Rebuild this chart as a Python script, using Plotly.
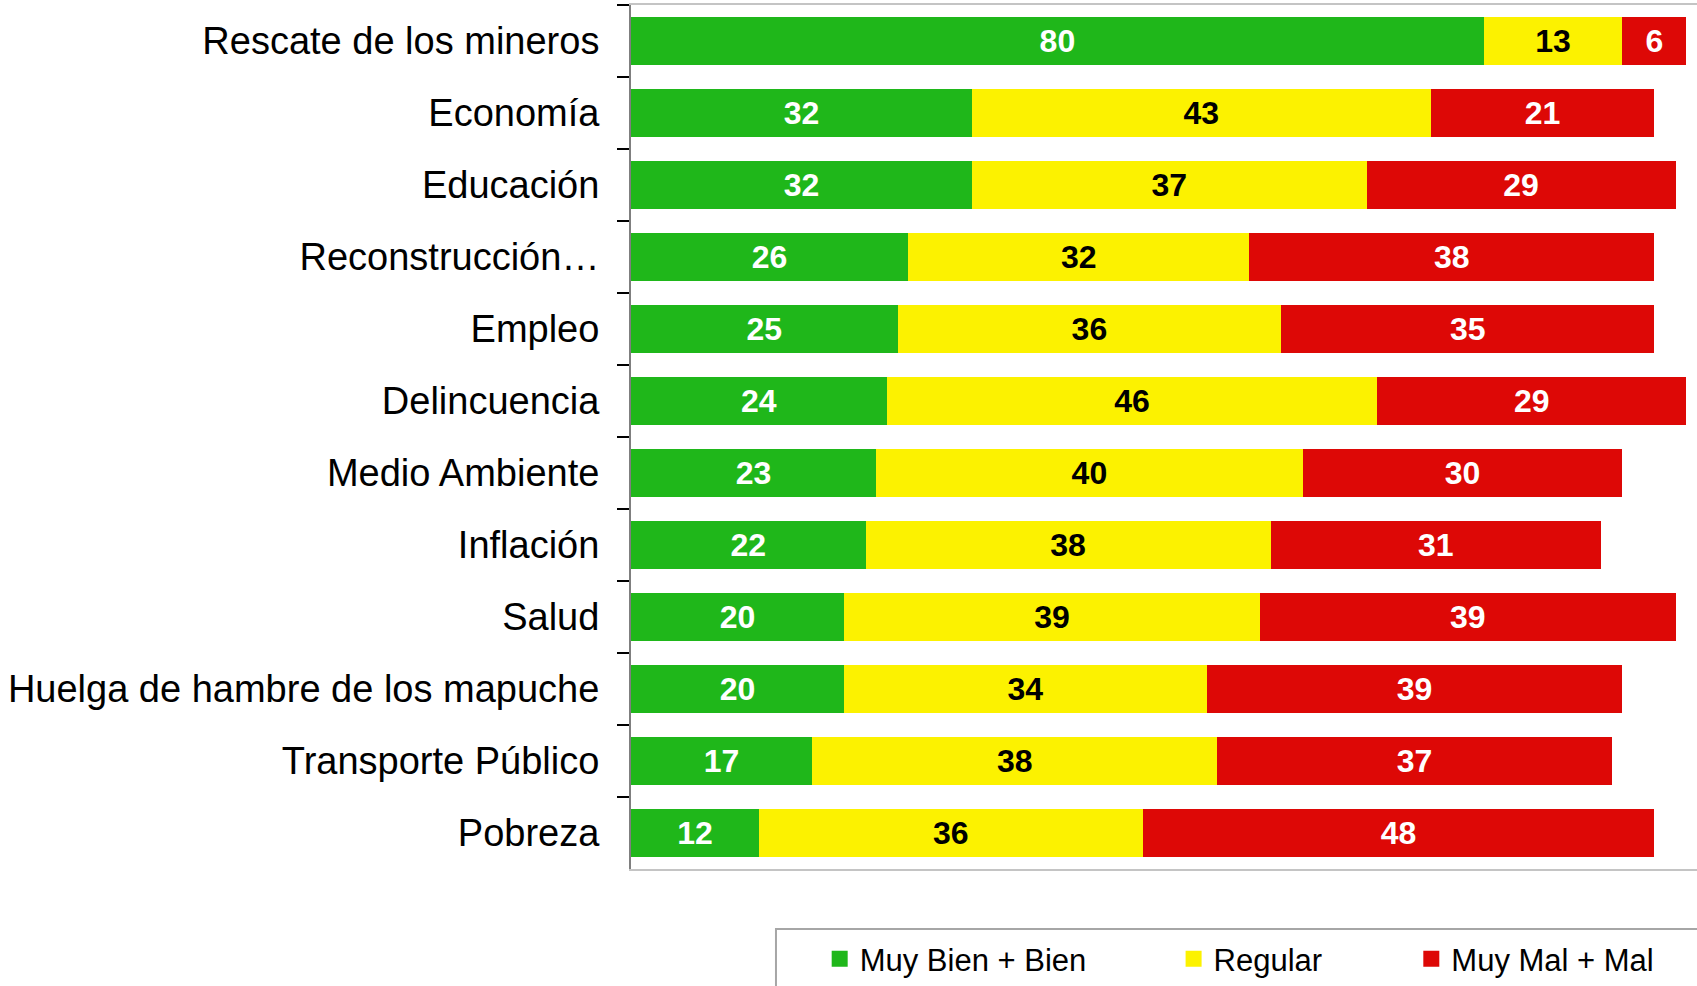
import plotly.graph_objects as go

categories = [
    "Rescate de los mineros", "Economía", "Educación", "Reconstrucción…",
    "Empleo", "Delincuencia", "Medio Ambiente", "Inflación", "Salud",
    "Huelga de hambre de los mapuche", "Transporte Público", "Pobreza",
]
bien = [80, 32, 32, 26, 25, 24, 23, 22, 20, 20, 17, 12]
regular = [13, 43, 37, 32, 36, 46, 40, 38, 39, 34, 38, 36]
mal = [6, 21, 29, 38, 35, 29, 30, 31, 39, 39, 37, 48]

series = [
    ("Muy Bien + Bien", bien, "#1fb71a", "white", "legend", 0.177),
    ("Regular", regular, "#fcf200", "black", "legend2", 0.509),
    ("Muy Mal + Mal", mal, "#dd0806", "white", "legend3", 0.732),
]

fig = go.Figure()
for name, vals, color, txtcolor, leg, lx in series:
    fig.add_trace(go.Bar(
        y=categories, x=vals, orientation="h", name=name,
        marker=dict(color=color, line=dict(width=0)),
        text=vals, textposition="inside", insidetextanchor="middle",
        textangle=0, constraintext="none",
        textfont=dict(family="Liberation Sans, Arial", size=32, color=txtcolor, weight="bold"),
        showlegend=False, hoverinfo="skip",
    ))
    # legend-only square marker
    fig.add_trace(go.Scatter(
        x=[None], y=[None], mode="markers", name=name, legend=leg,
        marker=dict(symbol="square", size=20, color=color),
    ))

legend_style = dict(
    orientation="h", yanchor="middle", y=-0.104, xanchor="left",
    font=dict(family="Liberation Sans, Arial", size=31, color="black"),
    bgcolor="rgba(0,0,0,0)", borderwidth=0, itemsizing="trace",
)
layout_legends = {}
for name, vals, color, txtcolor, leg, lx in series:
    layout_legends[leg] = dict(legend_style, x=lx)

fig.update_layout(
    barmode="stack", bargap=0.33,
    width=1697, height=986,
    margin=dict(l=631, r=0, t=5, b=116),
    plot_bgcolor="white", paper_bgcolor="white",
    font=dict(family="Liberation Sans, Arial", color="black"),
    **layout_legends,
)
fig.update_xaxes(
    range=[0, 100], showticklabels=False, showgrid=False, zeroline=False,
    showline=True, mirror=True, linecolor="#c4c4c4", linewidth=2, ticks="",
)
fig.update_yaxes(
    categoryorder="array", categoryarray=categories, autorange="reversed",
    showline=True, linecolor="#7f7f7f", linewidth=2,
    ticks="outside", tickson="boundaries", ticklen=12, tickwidth=2, tickcolor="black",
    ticklabelstandoff=22, showgrid=False, zeroline=False,
    tickfont=dict(family="Liberation Sans, Arial", size=38, color="black"),
)
# legend box
fig.add_shape(type="rect", xref="paper", yref="paper",
              x0=0.136, x1=1.02, y0=-0.2, y1=-0.0694,
              line=dict(color="#a6a6a6", width=2), fillcolor="rgba(0,0,0,0)")

# drop the page's default body margin so the figure sits at the window origin
fig.write_html(
    "out.html",
    config={"displayModeBar": False},
    post_script="document.body.style.margin='0';document.body.style.overflow='hidden';",
)
